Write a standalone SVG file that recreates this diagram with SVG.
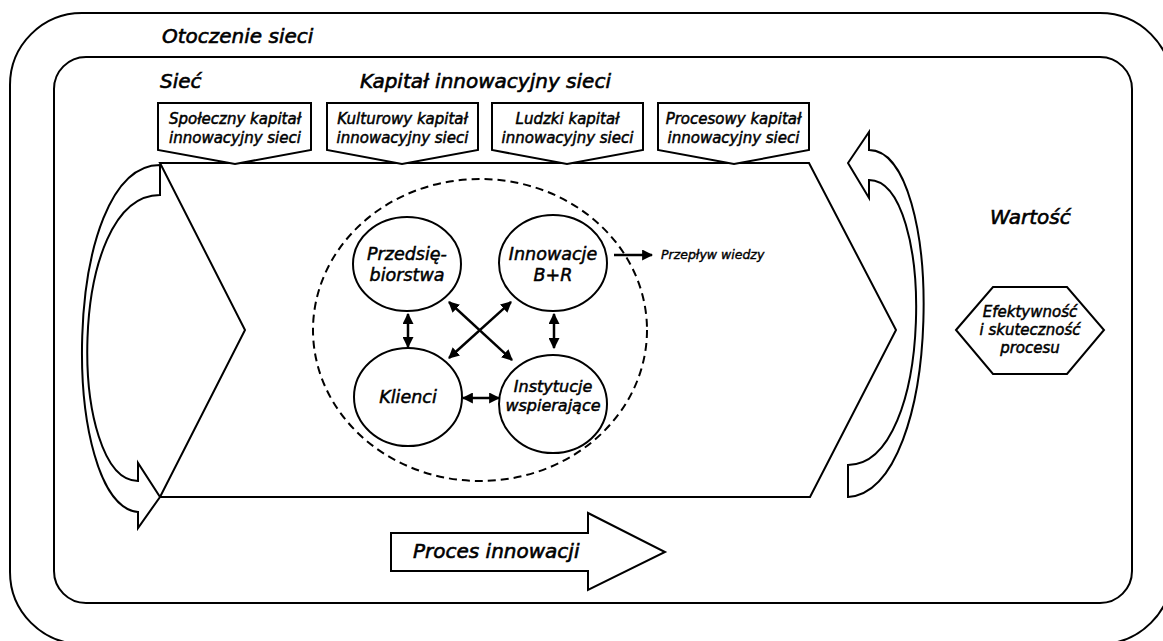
<svg xmlns="http://www.w3.org/2000/svg" width="1163" height="641" viewBox="0 0 1163 641">
<style>
.ln{fill:none;stroke:#000;stroke-width:2}
.sh{fill:#fff;stroke:#000;stroke-width:2;stroke-linejoin:miter}
.t{font-family:"DejaVu Sans",sans-serif;font-style:italic;fill:#000;stroke:#000;stroke-width:0.5}
.big{font-size:20px;stroke-width:0.6}
.box{font-size:15px;text-anchor:middle}
.nd{font-size:17.5px;text-anchor:middle}
.cn{fill:none;stroke:#000;stroke-width:2.5}
</style>
<defs>
<marker id="ah" viewBox="0 0 10 10" refX="9" refY="5" markerWidth="11" markerHeight="11" markerUnits="userSpaceOnUse" orient="auto-start-reverse">
<path d="M0,0 L10,5 L0,10 Z" fill="#000"/>
</marker>
</defs>
<rect id="otoczenie" class="ln" x="10" y="13" width="1162" height="631" rx="72"/>
<rect id="siec" class="ln" x="54" y="57" width="1078" height="546" rx="32"/>
<text class="t big" x="162" y="43">Otoczenie sieci</text>
<text class="t big" x="160" y="88">Sieć</text>
<text class="t big" x="360" y="88">Kapitał innowacyjny sieci</text>
<g id="proces-chevron"><path class="sh" d="M160,163 L809,163 L896,330 L810,497 L160,497 L245,330 Z"/></g>
<g id="box-spoleczny"><path class="sh" d="M158,103 L311,103 L311,150 L235,164 L158,150 Z"/>
<text class="t box" x="235" y="124">Społeczny kapitał</text><text class="t box" x="235" y="143">innowacyjny sieci</text></g>
<g id="box-kulturowy"><path class="sh" d="M327,103 L478,103 L478,150 L402,164 L327,150 Z"/>
<text class="t box" x="402.5" y="124">Kulturowy kapitał</text><text class="t box" x="402.5" y="143">innowacyjny sieci</text></g>
<g id="box-ludzki"><path class="sh" d="M492,103 L643,103 L643,150 L567,164 L492,150 Z"/>
<text class="t box" x="567.5" y="124">Ludzki kapitał</text><text class="t box" x="567.5" y="143">innowacyjny sieci</text></g>
<g id="box-procesowy"><path class="sh" d="M658,103 L809,103 L809,150 L734,164 L658,150 Z"/>
<text class="t box" x="733.5" y="124">Procesowy kapitał</text><text class="t box" x="733.5" y="143">innowacyjny sieci</text></g>
<g id="arrow-left"><path class="sh" d="M160,165 C60,165 60,505 138,512 L138,528 L160,497 L138,463 L138,481 C68,481 66,195 160,195 Z"/></g>
<g id="arrow-right"><path class="sh" d="M848,163 L869,132 L869,150 C945,150 945,490 848,497 L848,465 C935,465 935,180 869,180 L869,198 Z"/></g>
<text class="t big" x="990" y="224">Wartość</text>
<g id="efektywnosc"><path class="sh" d="M956,330 L993,287 L1067,287 L1104,330 L1067,374 L993,374 Z"/>
<text class="t box" x="1030" y="317">Efektywność</text><text class="t box" x="1030" y="335">i skuteczność</text><text class="t box" x="1030" y="353">procesu</text></g>
<g id="proces-innowacji"><path class="sh" d="M391,533 L588,533 L588,513 L665,552 L588,590 L588,571 L391,571 Z"/>
<text class="t big" x="413" y="558">Proces innowacji</text></g>
<ellipse id="siec-krag" cx="480" cy="330" rx="167" ry="151" fill="none" stroke="#000" stroke-width="2" stroke-dasharray="8,5"/>
<g id="przedsiebiorstwa"><ellipse class="sh" cx="407" cy="264" rx="54" ry="47"/>
<text class="t nd" x="407" y="260">Przedsię-</text><text class="t nd" x="407" y="281">biorstwa</text></g>
<g id="innowacje"><ellipse class="sh" cx="553" cy="263" rx="54" ry="48"/>
<text class="t nd" x="553" y="260">Innowacje</text><text class="t nd" x="553" y="281">B+R</text></g>
<g id="klienci"><ellipse class="sh" cx="408" cy="397" rx="54" ry="49"/>
<text class="t nd" x="408" y="403">Klienci</text></g>
<g id="instytucje"><ellipse class="sh" cx="553" cy="404" rx="54" ry="49"/>
<text class="t nd" x="553" y="392" style="font-size:16px">Instytucje</text><text class="t nd" x="553" y="411" style="font-size:16px">wspierające</text></g>
<g id="connectors">
<line class="cn" x1="408" y1="314" x2="408" y2="347" marker-start="url(#ah)" marker-end="url(#ah)"/>
<line class="cn" x1="554" y1="314" x2="554" y2="348" marker-start="url(#ah)" marker-end="url(#ah)"/>
<line class="cn" x1="463" y1="398" x2="499" y2="398" marker-start="url(#ah)" marker-end="url(#ah)"/>
<line class="cn" x1="449" y1="302" x2="512" y2="360" marker-start="url(#ah)" marker-end="url(#ah)"/>
<line class="cn" x1="511" y1="302" x2="449" y2="358" marker-start="url(#ah)" marker-end="url(#ah)"/>
<line class="cn" x1="614" y1="255" x2="652" y2="255" marker-end="url(#ah)"/>
</g>
<text class="t" x="661" y="259" style="font-size:12.5px;stroke-width:0.4">Przepływ wiedzy</text>
</svg>
